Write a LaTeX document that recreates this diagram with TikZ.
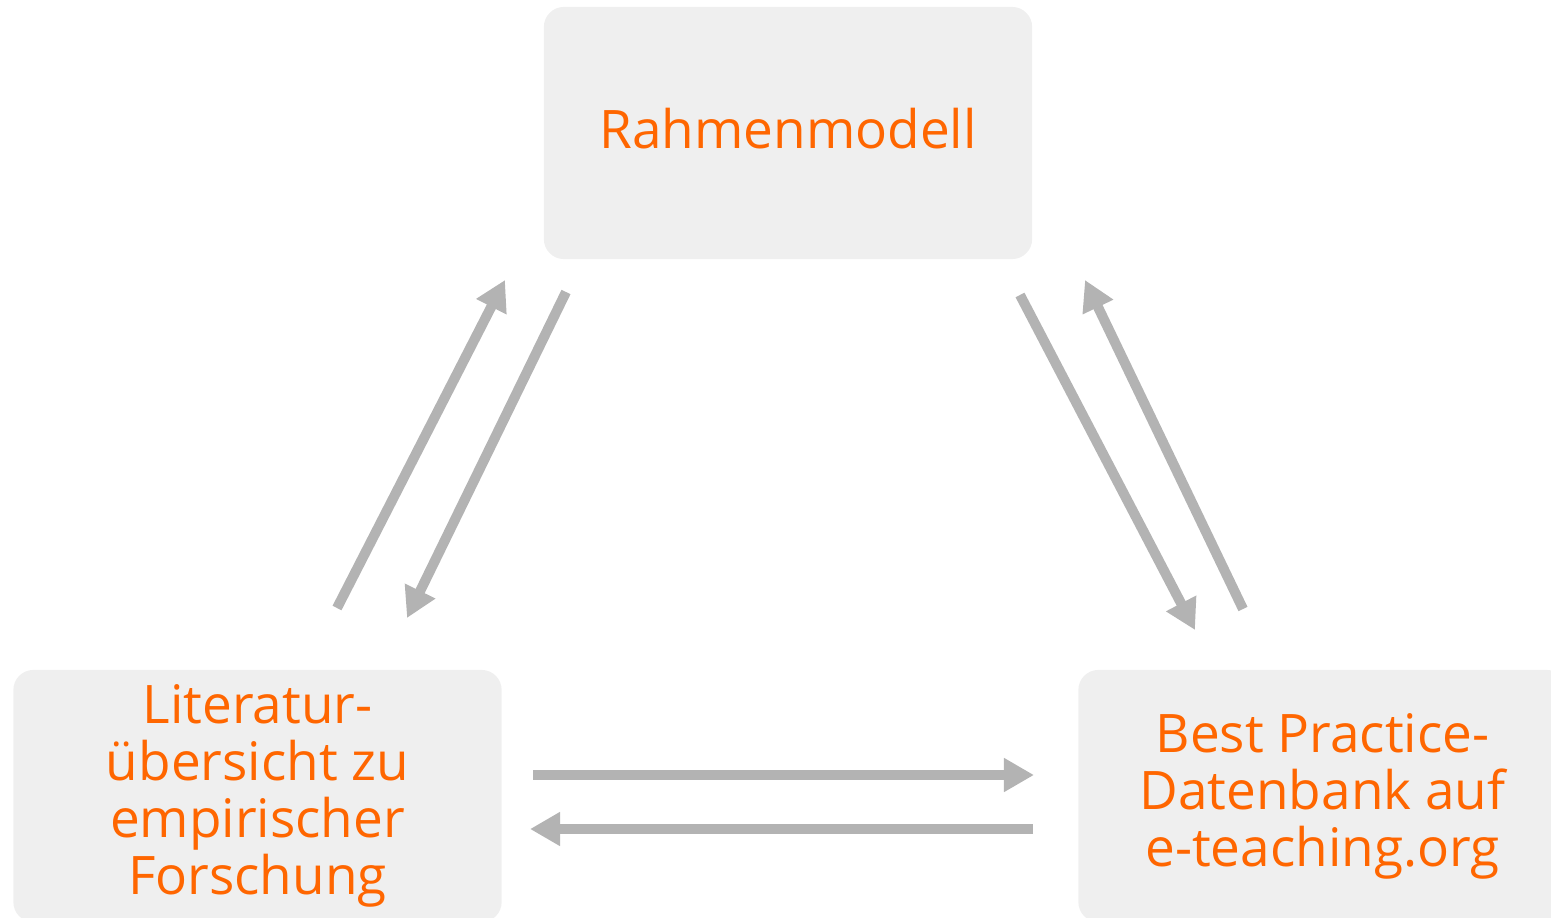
\documentclass[tikz,border=0pt]{standalone}
\usepackage{fontspec}
\setmainfont{Open Sans}
\usetikzlibrary{arrows.meta,positioning}
\definecolor{boxgray}{RGB}{239,239,239}
\definecolor{textorange}{RGB}{255,102,0}
\definecolor{arrowgray}{RGB}{179,179,179}

\tikzset{
  block/.style={fill=boxgray, rounded corners=0.2cm, minimum width=4.88cm,
    minimum height=2.52cm, align=center, text=textorange, inner sep=0pt,
    font=\fontsize{15.1}{16.2}\selectfont},
  flow/.style={arrowgray, line width=0.1cm, -{Triangle[length=0.3cm,width=0.32cm]}},
}

\begin{document}
\begin{tikzpicture}[x=0.01cm,y=-0.01cm]
\useasboundingbox (0,0) rectangle (1551,918);
\clip (0,0) rectangle (1551,918);

% boxes
\node[block, text depth=0.1cm] (rahmen) at (788,133) {Rahmenmodell};
\node[block] (lit) at (257.5,796) {Literatur-\\übersicht zu\\empirischer\\Forschung};
\node[block] (best) at (1322.5,796) {Best Practice-\\Datenbank auf\\e-teaching.org};

% arrow ends
\coordinate (lit-up-s) at (337,608);
\coordinate (lit-up-e) at (505,280);
\coordinate (lit-down-s) at (566,292);
\coordinate (lit-down-e) at (407,618);
\coordinate (best-down-s) at (1020,295);
\coordinate (best-down-e) at (1195,630);
\coordinate (best-up-s) at (1243,609);
\coordinate (best-up-e) at (1085,280);
\coordinate (lit-best-s) at (533,775);
\coordinate (lit-best-e) at (1034,775);
\coordinate (best-lit-s) at (1033,829);
\coordinate (best-lit-e) at (530,829);

\draw[flow] (lit-up-s) -- (lit-up-e);
\draw[flow] (lit-down-s) -- (lit-down-e);
\draw[flow] (best-down-s) -- (best-down-e);
\draw[flow] (best-up-s) -- (best-up-e);
\draw[flow] (lit-best-s) -- (lit-best-e);
\draw[flow] (best-lit-s) -- (best-lit-e);
\end{tikzpicture}
\end{document}
